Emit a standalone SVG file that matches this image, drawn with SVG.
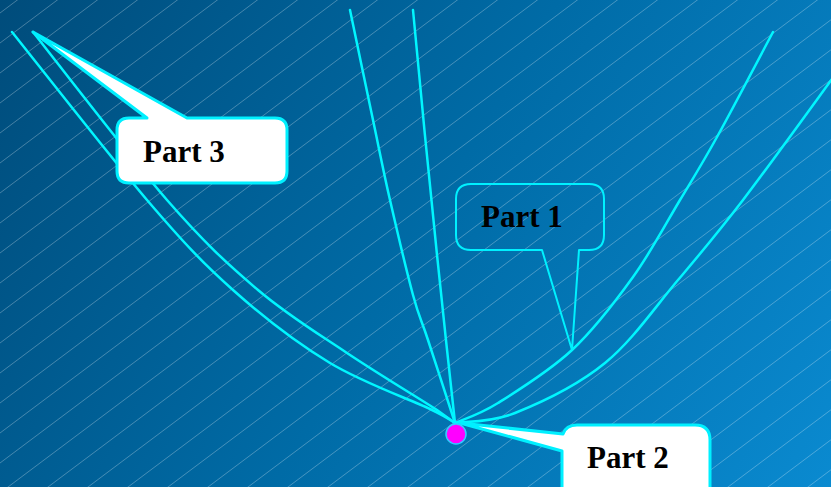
<svg xmlns="http://www.w3.org/2000/svg" width="831" height="487" viewBox="0 0 831 487">
<defs>
<linearGradient id="bg" x1="0" y1="0" x2="831" y2="487" gradientUnits="userSpaceOnUse">
<stop offset="0" stop-color="#004C7B"/>
<stop offset="0.5" stop-color="#006BA6"/>
<stop offset="1" stop-color="#0A8AD0"/>
</linearGradient>
<pattern id="hatch" x="0" y="13" width="40" height="30" patternUnits="userSpaceOnUse">
<path d="M0,30 L40,0 M-4,3 L4,-3 M36,33 L44,27" stroke="#FFFFFF" stroke-opacity="0.3" stroke-width="0.9" fill="none"/>
</pattern>
<style>
.curve{fill:none;stroke:#00F6FF;stroke-width:2.5;stroke-linecap:round}
.callout{fill:#FFFFFF;stroke:#00F0FF;stroke-width:3;stroke-linejoin:round}
.callout-open{fill:none;stroke:#00F0FF;stroke-width:2;stroke-linejoin:round}
.label{font-family:"Liberation Serif","Times New Roman",serif;font-weight:bold;font-size:31px;fill:#000000}
</style>
</defs>
<g id="background">
<rect width="831" height="487" fill="url(#bg)"/>
<rect width="831" height="487" fill="url(#hatch)"/>
</g>
<g id="connectors">
<path class="curve" d="M12,32 C34.5,60 110.2,157 147,200 C183.8,243 202.5,262.8 233,290 C263.5,317.2 297.2,343.2 330,363 C362.8,382.8 409.2,399 430,409 C450.8,419 450.8,420.7 455,423"/>
<path class="curve" d="M33,32 C55.3,60 129.5,157 167,200 C204.5,243 228,264.5 258,290 C288,315.5 317.2,333 347,353 C376.8,373 419,398.3 437,410 L455,423"/>
<path class="curve" d="M350,10 C353.8,28.3 366.3,88.3 373,120 C379.7,151.7 383.3,170.8 390,200 C396.7,229.2 406.7,271.7 413,295 C419.3,318.3 421,318.7 428,340 C435,361.3 450.5,409.2 455,423"/>
<path class="curve" d="M413,10 Q432,215 455,423"/>
<path class="curve" d="M773,32 C763.7,49.5 732.5,109 717,137 C701.5,165 694,176.7 680,200 C666,223.3 651,252 633,277 C615,302 594.5,329 572,350 C549.5,371 517.5,390.8 498,403 C478.5,415.2 462.2,419.7 455,423"/>
<path class="curve" d="M840,68 C823.8,90 770,164.7 743,200 C716,235.3 701,252.8 678,280 C655,307.2 632.2,340.8 605,363 C577.8,385.2 540,403 515,413 C490,423 465,421.3 455,423"/>
</g>
<g id="part3">
<path class="callout" d="M129,118 L147,118 L33,32 L187,118 L275,118 Q287,118 287,130 L287,171 Q287,183 275,183 L129,183 Q117,183 117,171 L117,130 Q117,118 129,118 Z"/>
<text class="label" x="143" y="162">Part 3</text>
</g>
<g id="part1">
<path class="callout-open" d="M471,184 L589,184 Q604,184 604,199 L604,235 Q604,250 589,250 L579,250 L572,350 L542,250 L471,250 Q456,250 456,235 L456,199 Q456,184 471,184 Z"/>
<text class="label" x="481" y="227">Part 1</text>
</g>
<g id="part2">
<path class="callout" d="M577,425 L695,425 Q710,425 710,440 L710,500 L562,500 L562,451 L460,423 L563,434 Q566,425 577,425 Z"/>
<text class="label" x="587" y="468">Part 2</text>
</g>
<g id="vertex">
<circle cx="456" cy="434" r="10" fill="#FF00FF" stroke="#33CCFF" stroke-width="1.5"/>
</g>
</svg>
